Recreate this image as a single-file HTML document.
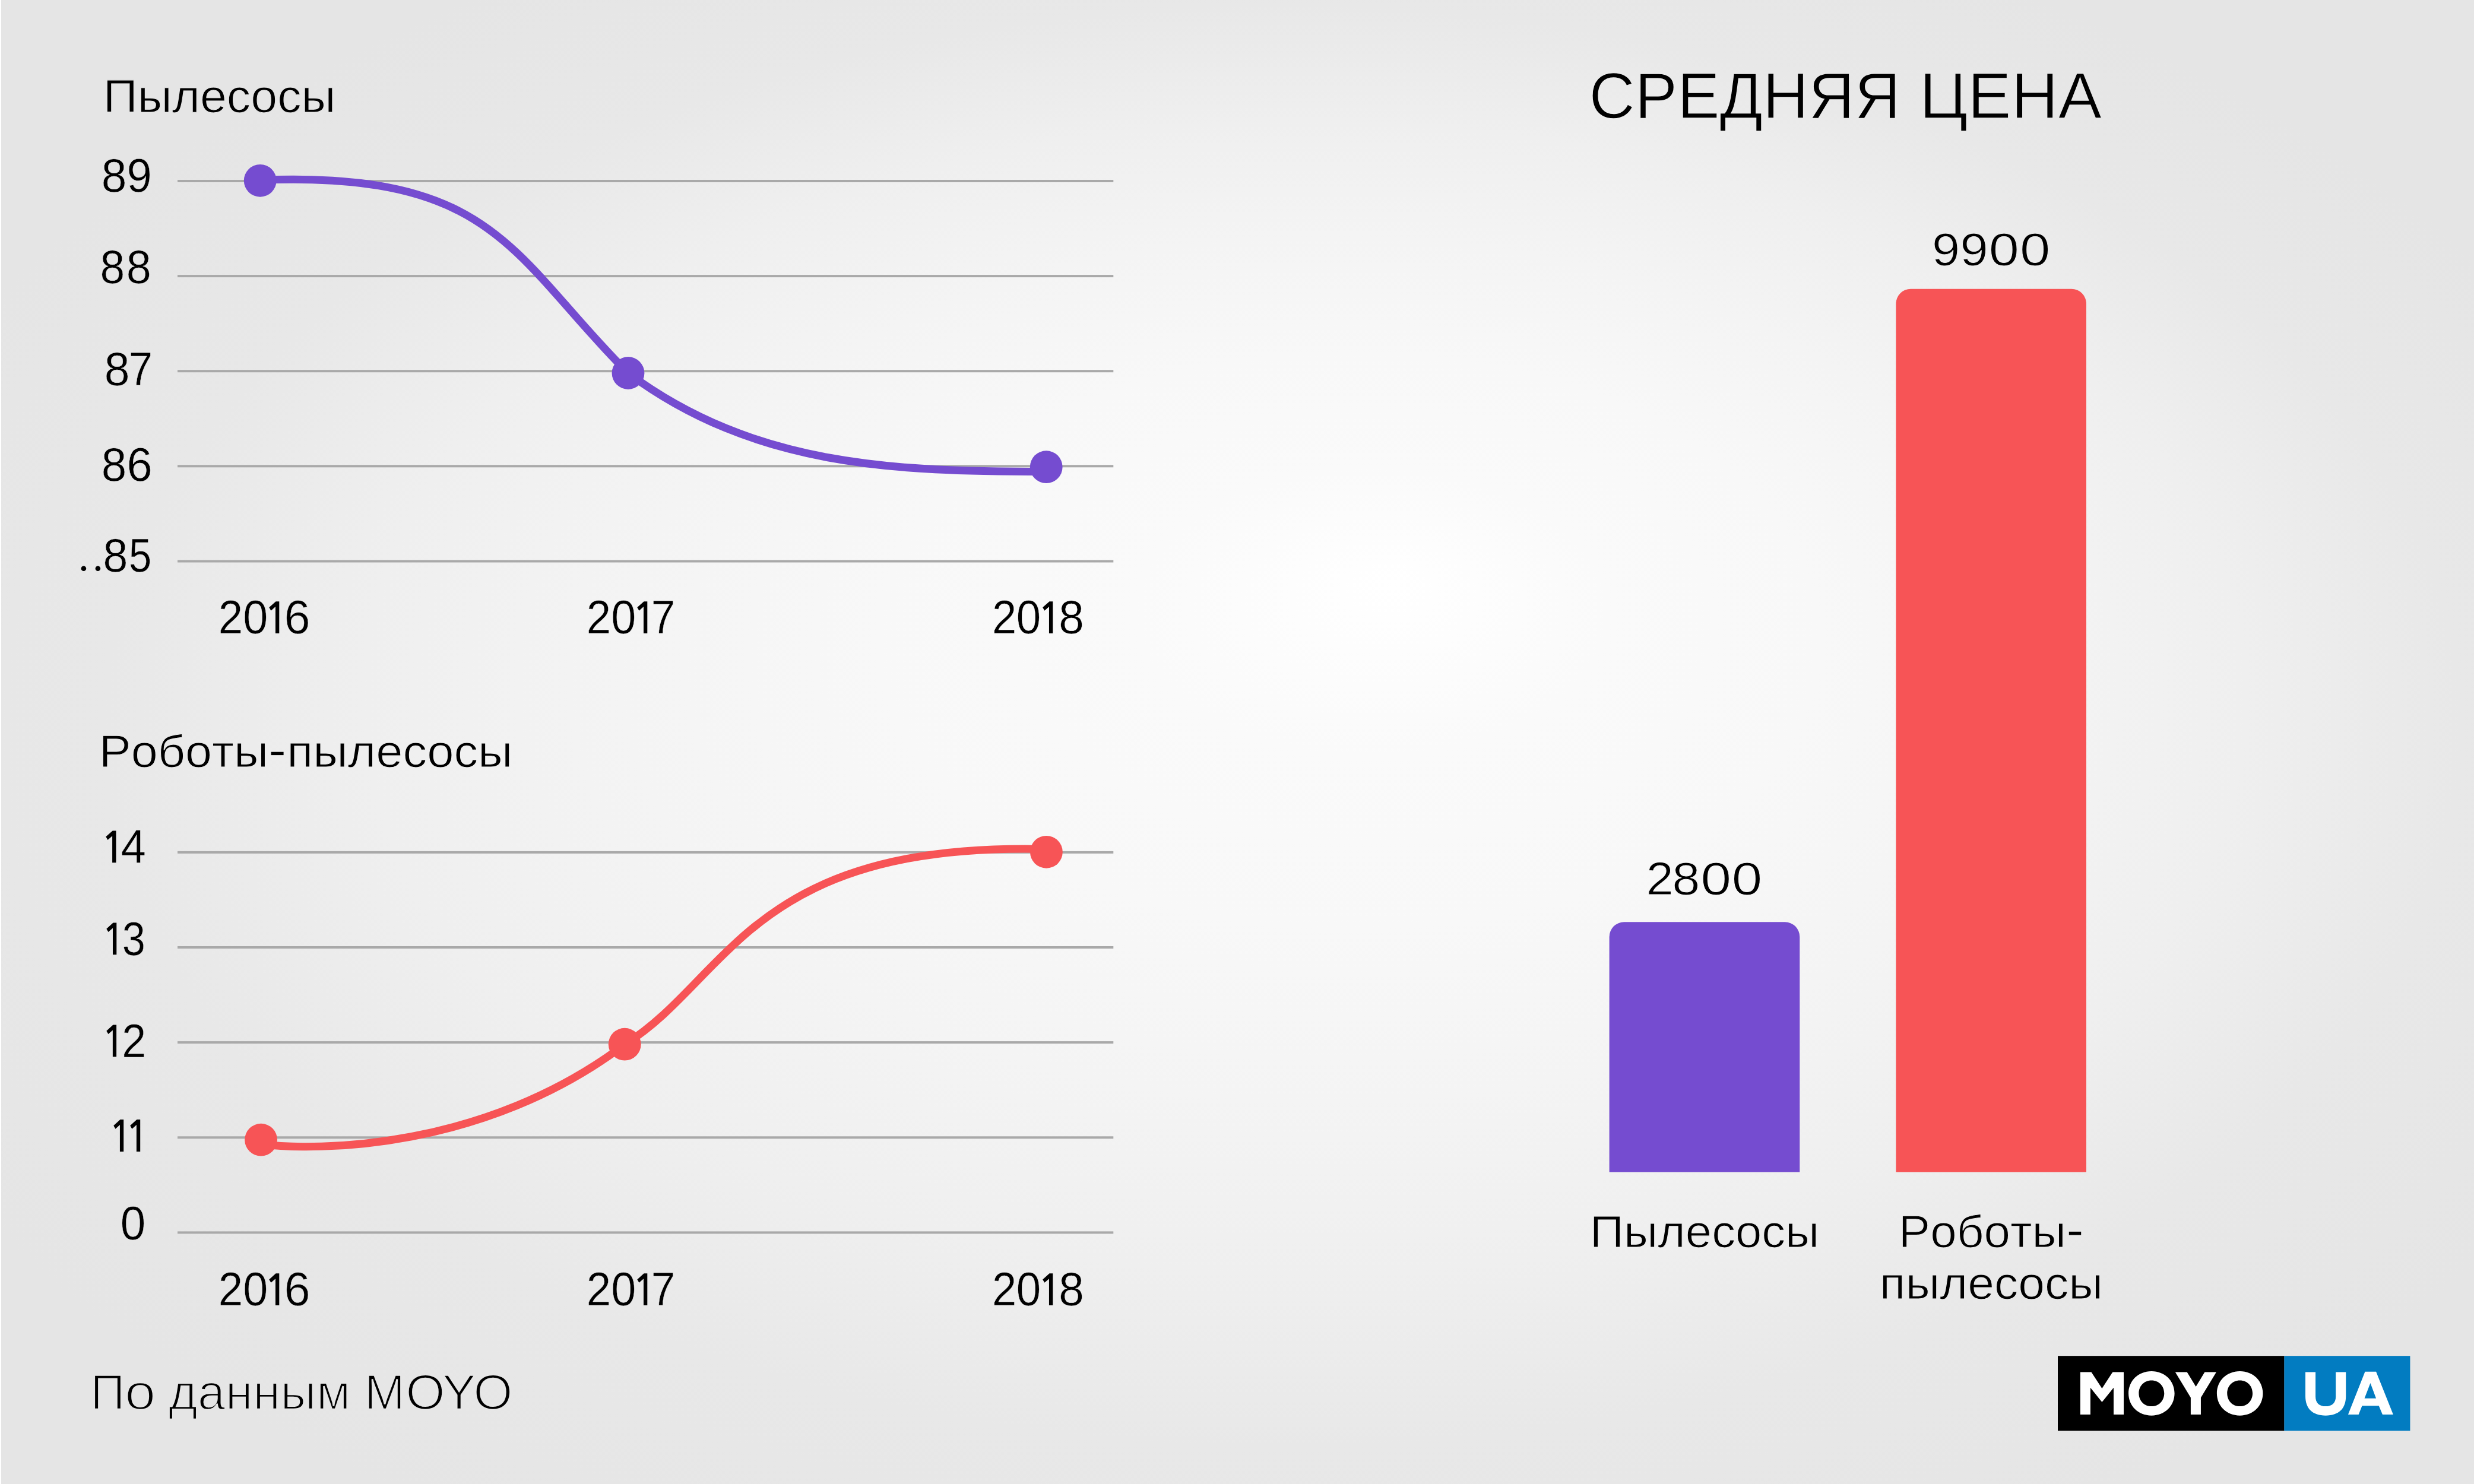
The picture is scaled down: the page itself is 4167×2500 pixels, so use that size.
<!DOCTYPE html>
<html lang="ru"><head><meta charset="utf-8"><title>Средняя цена</title>
<style>
html,body{margin:0;padding:0;background:#e5e5e5}
body{width:4167px;height:2500px;overflow:hidden;position:relative}
svg{position:absolute;left:0;top:0;display:block}
text{font-family:"Liberation Sans",sans-serif;font-kerning:none;white-space:pre}
</style></head><body>
<svg width="4167" height="2500" viewBox="0 0 4167 2500" xmlns="http://www.w3.org/2000/svg">
<defs><radialGradient id="bgg" gradientUnits="userSpaceOnUse" cx="2112.9" cy="1283.9" r="2479.75" fx="2347.5" fy="792.8" gradientTransform="translate(0,1283.9) scale(1,0.61206) translate(0,-1283.9)">
<stop offset="0.000" stop-color="#ffffff"/>
<stop offset="0.160" stop-color="#fafafa"/>
<stop offset="0.320" stop-color="#f8f8f8"/>
<stop offset="0.480" stop-color="#f4f4f4"/>
<stop offset="0.640" stop-color="#efefef"/>
<stop offset="0.800" stop-color="#e8e8e8"/>
<stop offset="1.000" stop-color="#e5e5e5"/>
</radialGradient></defs>
<rect x="0" y="0" width="4167" height="2500" fill="url(#bgg)"/>
<rect x="0" y="0" width="2" height="2500" fill="#fff"/>
<g id="grid">
<rect x="299" y="303.00" width="1576.3" height="4" fill="#a9a9a9"/>
<rect x="299" y="463.10" width="1576.3" height="4" fill="#a9a9a9"/>
<rect x="299" y="623.20" width="1576.3" height="4" fill="#a9a9a9"/>
<rect x="299" y="783.30" width="1576.3" height="4" fill="#a9a9a9"/>
<rect x="299" y="943.50" width="1576.3" height="4" fill="#a9a9a9"/>
<rect x="299" y="1433.90" width="1576.3" height="4" fill="#a9a9a9"/>
<rect x="299" y="1594.00" width="1576.3" height="4" fill="#a9a9a9"/>
<rect x="299" y="1754.10" width="1576.3" height="4" fill="#a9a9a9"/>
<rect x="299" y="1914.30" width="1576.3" height="4" fill="#a9a9a9"/>
<rect x="299" y="2074.40" width="1576.3" height="4" fill="#a9a9a9"/>
</g>
<g id="bars">
<path d="M2710.6,1974.5 V1578.3 A25,25 0 0 1 2735.6,1553.3 H3006.3 A25,25 0 0 1 3031.3,1578.3 V1974.5 Z" fill="#754cd0"/>
<path d="M3193.4,1974.5 V511.7 A25,25 0 0 1 3218.4,486.7 H3489.0 A25,25 0 0 1 3514.0,511.7 V1974.5 Z" fill="#f75456"/>
</g>
<g id="curves">
<path d="M438,303.5 C834.8,288 861.4,431.2 1058,628.5 C1271.1,786.5 1508.1,794.5 1762,794.5" fill="none" stroke="#754cd0" stroke-width="13"/>
<path d="M439.6,1927.5 C533.7,1939.6 816.7,1937.4 1052.2,1759.5 C1228.9,1649.4 1262.6,1418.4 1762.4,1430.4" fill="none" stroke="#f75456" stroke-width="13"/>
<circle cx="438.2" cy="304.3" r="27.4" fill="#754cd0"/>
<circle cx="1058.0" cy="628.5" r="27.4" fill="#754cd0"/>
<circle cx="1762.2" cy="786.7" r="27.4" fill="#754cd0"/>
<circle cx="439.6" cy="1920.2" r="27.4" fill="#f75456"/>
<circle cx="1052.2" cy="1759.2" r="27.4" fill="#f75456"/>
<circle cx="1762.4" cy="1435.3" r="27.4" fill="#f75456"/>
</g>
<g id="labels">
<text x="173.81" y="188.65" font-size="77.33" textLength="391.74" lengthAdjust="spacingAndGlyphs" fill="#000" stroke="url(#bgg)" stroke-width="1.10">Пылесосы</text>
<text x="170.72" y="322.65" font-size="78.93" textLength="42.67" lengthAdjust="spacingAndGlyphs" fill="#000" stroke="url(#bgg)" stroke-width="0.50">8</text>
<text x="213.49" y="322.65" font-size="78.93" textLength="42.26" lengthAdjust="spacingAndGlyphs" fill="#000" stroke="url(#bgg)" stroke-width="0.50">9</text>
<text x="168.39" y="477.25" font-size="78.93" textLength="41.72" lengthAdjust="spacingAndGlyphs" fill="#000" stroke="url(#bgg)" stroke-width="0.50">8</text>
<text x="212.77" y="477.25" font-size="78.93" textLength="41.96" lengthAdjust="spacingAndGlyphs" fill="#000" stroke="url(#bgg)" stroke-width="0.50">8</text>
<text x="175.71" y="649.45" font-size="78.93" textLength="42.79" lengthAdjust="spacingAndGlyphs" fill="#000" stroke="url(#bgg)" stroke-width="0.50">8</text>
<text x="216.84" y="649.45" font-size="78.93" textLength="40.25" lengthAdjust="spacingAndGlyphs" fill="#000" stroke="url(#bgg)" stroke-width="0.50">7</text>
<text x="170.83" y="809.85" font-size="78.93" textLength="42.55" lengthAdjust="spacingAndGlyphs" fill="#000" stroke="url(#bgg)" stroke-width="0.50">8</text>
<text x="213.41" y="809.85" font-size="78.93" textLength="43.15" lengthAdjust="spacingAndGlyphs" fill="#000" stroke="url(#bgg)" stroke-width="0.50">6</text>
<text x="173.48" y="962.55" font-size="78.93" textLength="41.84" lengthAdjust="spacingAndGlyphs" fill="#000" stroke="url(#bgg)" stroke-width="0.50">8</text>
<text x="216.90" y="962.55" font-size="78.93" textLength="38.24" lengthAdjust="spacingAndGlyphs" fill="#000" stroke="url(#bgg)" stroke-width="0.50">5</text>
<circle cx="140.9" cy="957.8" r="4.3" fill="#000"/><circle cx="164.9" cy="957.8" r="4.3" fill="#000"/>
<text x="367.81" y="1067.25" font-size="78.93" textLength="41.38" lengthAdjust="spacingAndGlyphs" fill="#000" stroke="url(#bgg)" stroke-width="0.50">2</text>
<text x="409.20" y="1067.25" font-size="78.93" textLength="42.00" lengthAdjust="spacingAndGlyphs" fill="#000" stroke="url(#bgg)" stroke-width="0.50">0</text>
<path d="M470.30,1013.20 L470.30,1067.00 L463.98,1067.00 L463.98,1022.12 L456.45,1028.73 L453.30,1023.33 L464.59,1013.20 Z" fill="#000"/>
<text x="478.86" y="1067.25" font-size="78.93" textLength="43.75" lengthAdjust="spacingAndGlyphs" fill="#000" stroke="url(#bgg)" stroke-width="0.50">6</text>
<text x="367.81" y="2199.35" font-size="78.93" textLength="41.38" lengthAdjust="spacingAndGlyphs" fill="#000" stroke="url(#bgg)" stroke-width="0.50">2</text>
<text x="409.20" y="2199.35" font-size="78.93" textLength="42.00" lengthAdjust="spacingAndGlyphs" fill="#000" stroke="url(#bgg)" stroke-width="0.50">0</text>
<path d="M470.30,2145.30 L470.30,2199.10 L463.98,2199.10 L463.98,2154.22 L456.45,2160.83 L453.30,2155.43 L464.59,2145.30 Z" fill="#000"/>
<text x="478.86" y="2199.35" font-size="78.93" textLength="43.75" lengthAdjust="spacingAndGlyphs" fill="#000" stroke="url(#bgg)" stroke-width="0.50">6</text>
<text x="987.81" y="1067.25" font-size="78.93" textLength="41.38" lengthAdjust="spacingAndGlyphs" fill="#000" stroke="url(#bgg)" stroke-width="0.50">2</text>
<text x="1029.20" y="1067.25" font-size="78.93" textLength="42.00" lengthAdjust="spacingAndGlyphs" fill="#000" stroke="url(#bgg)" stroke-width="0.50">0</text>
<path d="M1090.30,1013.20 L1090.30,1067.00 L1083.98,1067.00 L1083.98,1022.12 L1076.45,1028.73 L1073.30,1023.33 L1084.59,1013.20 Z" fill="#000"/>
<text x="1096.72" y="1067.25" font-size="78.93" textLength="40.50" lengthAdjust="spacingAndGlyphs" fill="#000" stroke="url(#bgg)" stroke-width="0.50">7</text>
<text x="987.81" y="2199.35" font-size="78.93" textLength="41.38" lengthAdjust="spacingAndGlyphs" fill="#000" stroke="url(#bgg)" stroke-width="0.50">2</text>
<text x="1029.20" y="2199.35" font-size="78.93" textLength="42.00" lengthAdjust="spacingAndGlyphs" fill="#000" stroke="url(#bgg)" stroke-width="0.50">0</text>
<path d="M1090.30,2145.30 L1090.30,2199.10 L1083.98,2199.10 L1083.98,2154.22 L1076.45,2160.83 L1073.30,2155.43 L1084.59,2145.30 Z" fill="#000"/>
<text x="1096.72" y="2199.35" font-size="78.93" textLength="40.50" lengthAdjust="spacingAndGlyphs" fill="#000" stroke="url(#bgg)" stroke-width="0.50">7</text>
<text x="1670.92" y="1067.25" font-size="78.93" textLength="41.26" lengthAdjust="spacingAndGlyphs" fill="#000" stroke="url(#bgg)" stroke-width="0.50">2</text>
<text x="1711.74" y="1067.25" font-size="78.93" textLength="41.42" lengthAdjust="spacingAndGlyphs" fill="#000" stroke="url(#bgg)" stroke-width="0.50">0</text>
<path d="M1773.30,1013.20 L1773.30,1067.00 L1766.95,1067.00 L1766.95,1022.12 L1759.37,1028.73 L1756.20,1023.33 L1767.56,1013.20 Z" fill="#000"/>
<text x="1783.23" y="1067.25" font-size="78.93" textLength="42.55" lengthAdjust="spacingAndGlyphs" fill="#000" stroke="url(#bgg)" stroke-width="0.50">8</text>
<text x="1670.92" y="2199.35" font-size="78.93" textLength="41.26" lengthAdjust="spacingAndGlyphs" fill="#000" stroke="url(#bgg)" stroke-width="0.50">2</text>
<text x="1711.74" y="2199.35" font-size="78.93" textLength="41.42" lengthAdjust="spacingAndGlyphs" fill="#000" stroke="url(#bgg)" stroke-width="0.50">0</text>
<path d="M1773.30,2145.30 L1773.30,2199.10 L1766.95,2199.10 L1766.95,2154.22 L1759.37,2160.83 L1756.20,2155.43 L1767.56,2145.30 Z" fill="#000"/>
<text x="1783.23" y="2199.35" font-size="78.93" textLength="42.55" lengthAdjust="spacingAndGlyphs" fill="#000" stroke="url(#bgg)" stroke-width="0.50">8</text>
<text x="166.71" y="1292.35" font-size="76.45" textLength="285.55" lengthAdjust="spacingAndGlyphs" fill="#000" stroke="url(#bgg)" stroke-width="1.10">Роботы</text>
<rect x="456.6" y="1266.7" width="21" height="5.4" fill="#000"/>
<text x="483.31" y="1292.35" font-size="76.45" textLength="380.28" lengthAdjust="spacingAndGlyphs" fill="#000" stroke="url(#bgg)" stroke-width="1.10">пылесосы</text>
<path d="M195.50,1399.40 L195.50,1453.20 L189.11,1453.20 L189.11,1408.32 L181.49,1414.93 L178.30,1409.53 L189.73,1399.40 Z" fill="#000"/>
<text x="203.50" y="1453.45" font-size="78.93" textLength="42.49" lengthAdjust="spacingAndGlyphs" fill="#000" stroke="url(#bgg)" stroke-width="0.50">4</text>
<path d="M196.30,1554.50 L196.30,1608.30 L189.98,1608.30 L189.98,1563.42 L182.45,1570.03 L179.30,1564.63 L190.59,1554.50 Z" fill="#000"/>
<text x="205.78" y="1608.55" font-size="78.93" textLength="39.06" lengthAdjust="spacingAndGlyphs" fill="#000" stroke="url(#bgg)" stroke-width="0.50">3</text>
<path d="M196.10,1726.50 L196.10,1780.30 L189.86,1780.30 L189.86,1735.42 L182.42,1742.03 L179.30,1736.63 L190.46,1726.50 Z" fill="#000"/>
<text x="205.25" y="1780.55" font-size="78.93" textLength="40.90" lengthAdjust="spacingAndGlyphs" fill="#000" stroke="url(#bgg)" stroke-width="0.50">2</text>
<path d="M208.20,1886.10 L208.20,1939.90 L201.92,1939.90 L201.92,1895.02 L194.44,1901.63 L191.30,1896.23 L202.53,1886.10 Z" fill="#000"/>
<path d="M236.20,1886.10 L236.20,1939.90 L229.88,1939.90 L229.88,1895.02 L222.35,1901.63 L219.20,1896.23 L230.49,1886.10 Z" fill="#000"/>
<text x="202.77" y="2088.45" font-size="78.93" textLength="42.47" lengthAdjust="spacingAndGlyphs" fill="#000" stroke="url(#bgg)" stroke-width="0.50">0</text>
<text x="152.23" y="2374.20" font-size="83.29" textLength="58.29" lengthAdjust="spacingAndGlyphs" fill="#000" stroke="url(#bgg)" stroke-width="2.60">П</text>
<text x="210.05" y="2374.20" font-size="83.29" textLength="52.30" lengthAdjust="spacingAndGlyphs" fill="#000" stroke="url(#bgg)" stroke-width="2.60">о</text>
<text x="283.88" y="2374.20" font-size="83.29" textLength="306.50" lengthAdjust="spacingAndGlyphs" fill="#000" stroke="url(#bgg)" stroke-width="2.60">данным</text>
<text x="613.77" y="2374.20" font-size="83.29" textLength="68.36" lengthAdjust="spacingAndGlyphs" fill="#000" stroke="url(#bgg)" stroke-width="2.60">M</text>
<text x="683.15" y="2374.20" font-size="83.29" textLength="66.43" lengthAdjust="spacingAndGlyphs" fill="#000" stroke="url(#bgg)" stroke-width="2.60">O</text>
<text x="744.83" y="2374.20" font-size="83.29" textLength="56.85" lengthAdjust="spacingAndGlyphs" fill="#000" stroke="url(#bgg)" stroke-width="2.60">Y</text>
<text x="797.26" y="2374.20" font-size="83.29" textLength="66.32" lengthAdjust="spacingAndGlyphs" fill="#000" stroke="url(#bgg)" stroke-width="2.60">O</text>
<text x="2676.57" y="198.70" font-size="108.58" textLength="524.36" lengthAdjust="spacingAndGlyphs" fill="#000" stroke="url(#bgg)" stroke-width="1.40">СРЕДНЯЯ</text>
<text x="3233.09" y="198.70" font-size="108.58" textLength="307.02" lengthAdjust="spacingAndGlyphs" fill="#000" stroke="url(#bgg)" stroke-width="1.40">ЦЕНА</text>
<text x="3254.13" y="446.55" font-size="77.05" textLength="47.08" lengthAdjust="spacingAndGlyphs" fill="#000" stroke="url(#bgg)" stroke-width="1.00">9</text>
<text x="3301.52" y="446.55" font-size="77.05" textLength="47.20" lengthAdjust="spacingAndGlyphs" fill="#000" stroke="url(#bgg)" stroke-width="1.00">9</text>
<text x="3349.71" y="446.55" font-size="77.05" textLength="51.07" lengthAdjust="spacingAndGlyphs" fill="#000" stroke="url(#bgg)" stroke-width="1.00">0</text>
<text x="3401.90" y="446.55" font-size="77.05" textLength="51.31" lengthAdjust="spacingAndGlyphs" fill="#000" stroke="url(#bgg)" stroke-width="1.00">0</text>
<text x="2772.65" y="1506.50" font-size="77.05" textLength="45.90" lengthAdjust="spacingAndGlyphs" fill="#000" stroke="url(#bgg)" stroke-width="1.00">2</text>
<text x="2816.55" y="1506.50" font-size="77.05" textLength="46.70" lengthAdjust="spacingAndGlyphs" fill="#000" stroke="url(#bgg)" stroke-width="1.00">8</text>
<text x="2864.58" y="1506.50" font-size="77.05" textLength="51.54" lengthAdjust="spacingAndGlyphs" fill="#000" stroke="url(#bgg)" stroke-width="1.00">0</text>
<text x="2916.69" y="1506.50" font-size="77.05" textLength="51.42" lengthAdjust="spacingAndGlyphs" fill="#000" stroke="url(#bgg)" stroke-width="1.00">0</text>
<text x="2677.89" y="2100.75" font-size="76.60" textLength="386.48" lengthAdjust="spacingAndGlyphs" fill="#000" stroke="url(#bgg)" stroke-width="1.10">Пылесосы</text>
<text x="3197.89" y="2100.75" font-size="76.60" textLength="282.21" lengthAdjust="spacingAndGlyphs" fill="#000" stroke="url(#bgg)" stroke-width="1.10">Роботы</text>
<rect x="3484.8" y="2074.9" width="20.4" height="5.7" fill="#000"/>
<text x="3165.87" y="2188.45" font-size="76.60" textLength="376.36" lengthAdjust="spacingAndGlyphs" fill="#000" stroke="url(#bgg)" stroke-width="1.10">пылесосы</text>
</g>
<g id="logo">
<rect x="3466" y="2284.2" width="381.6" height="126.2" fill="#000"/>
<rect x="3847.4" y="2284.2" width="212" height="126.2" fill="#027cc1"/>
<g transform="translate(3400,2220) scale(0.31003)" fill="#fff" fill-rule="evenodd">
<path d="M335,526 V295 H395 L453,384 L511,295 H571 V526 H516 V380 L455,456 H451 L390,380 V526 Z"/>
<path d="M722,290 C795,290 847,343 847,410.5 C847,478 795,531 722,531 C649,531 597,478 597,410.5 C597,343 649,290 722,290 Z M722,340 C681,340 653,371 653,410.5 C653,450 681,481 722,481 C763,481 791,450 791,410.5 C791,371 763,340 722,340 Z"/>
<path d="M851,295 H915 L963,374 L1011,295 H1074 L990,434 V526 H935 V434 Z"/>
<path d="M1202,290 C1275,290 1327,343 1327,410.5 C1327,478 1275,531 1202,531 C1129,531 1077,478 1077,410.5 C1077,343 1129,290 1202,290 Z M1202,340 C1161,340 1133,371 1133,410.5 C1133,450 1161,481 1202,481 C1243,481 1271,450 1271,410.5 C1271,371 1243,340 1202,340 Z"/>
<path d="M1558,295 H1613 V428 C1613,462 1633,481 1668,481 C1703,481 1723,462 1723,428 V295 H1778 V426 C1778,495 1738,531 1668,531 C1598,531 1558,495 1558,426 Z"/>
<path d="M1882,293 H1942 L2035,526 H1977 L1957,478 H1866 L1847,526 H1790 Z M1911,355 L1879,438 H1942 Z"/>
</g>
</g>
</svg>
</body></html>
